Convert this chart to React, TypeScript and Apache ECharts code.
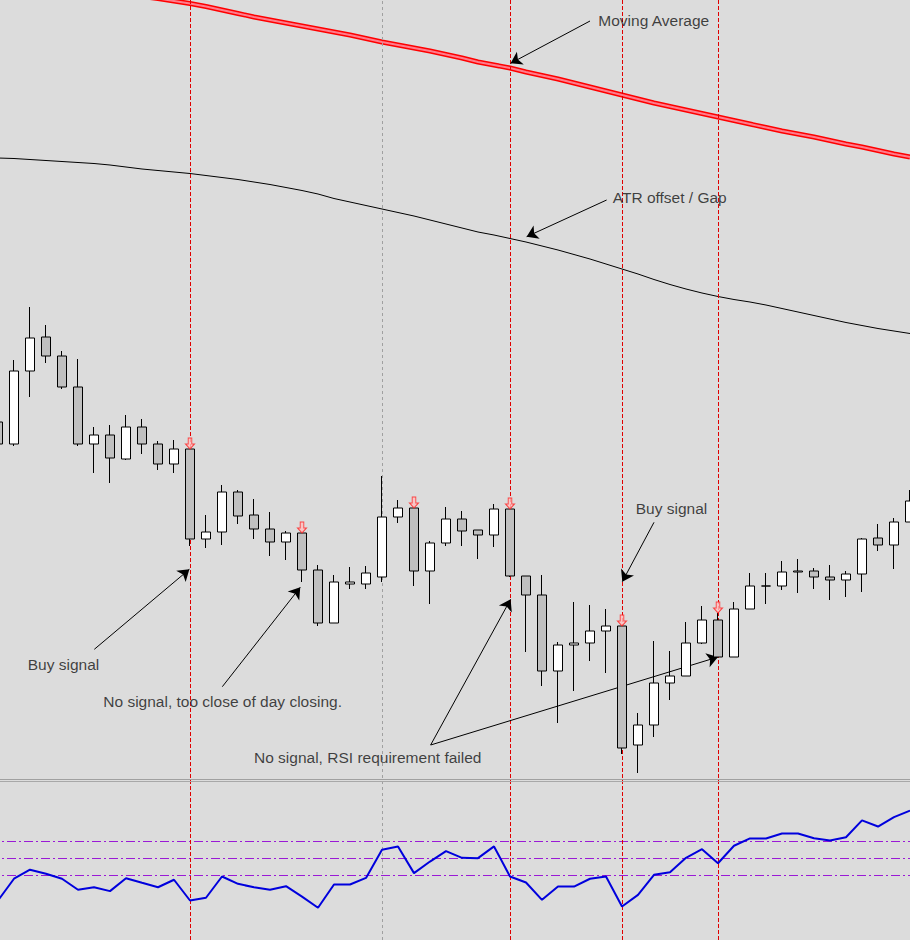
import React, { useEffect, useRef } from "react";
import * as echarts from "echarts";

// ---------- data ----------
const categories: string[] = Array.from({ length: 58 }, (_, i) => `Bar ${i + 1}`);

// [open, close, low, high]
const ohlc: number[][] = [
  [35.6, 33.4, 33.0, 36.0],
  [33.4, 40.7, 33.2, 41.8],
  [40.7, 44.0, 38.1, 47.1],
  [44.1, 42.2, 41.5, 45.3],
  [42.2, 39.1, 38.9, 42.7],
  [39.1, 33.4, 33.2, 41.9],
  [33.4, 34.3, 30.5, 35.1],
  [34.3, 32.0, 29.5, 35.3],
  [31.9, 35.1, 31.8, 36.3],
  [35.1, 33.4, 32.4, 35.9],
  [33.4, 31.4, 30.8, 33.7],
  [31.4, 32.9, 30.5, 33.8],
  [32.9, 23.9, 23.2, 32.9],
  [23.9, 24.6, 23.0, 26.3],
  [24.6, 28.6, 23.3, 29.3],
  [28.6, 26.2, 25.4, 28.8],
  [26.3, 24.9, 23.9, 27.9],
  [24.9, 23.6, 22.2, 26.6],
  [23.6, 24.5, 21.8, 24.7],
  [24.5, 20.8, 19.6, 24.5],
  [20.8, 15.5, 15.2, 21.3],
  [15.5, 19.6, 15.5, 20.3],
  [19.4, 19.6, 18.9, 21.1],
  [19.4, 20.5, 18.9, 21.2],
  [20.1, 26.1, 19.6, 30.2],
  [26.1, 27.0, 25.5, 27.8],
  [27.0, 20.7, 19.2, 27.0],
  [20.7, 23.5, 17.4, 23.7],
  [23.5, 25.9, 23.2, 27.1],
  [25.9, 24.7, 23.2, 26.7],
  [24.8, 24.3, 21.9, 24.8],
  [24.3, 26.9, 23.1, 27.4],
  [26.9, 20.2, 20.1, 26.9],
  [20.2, 18.3, 12.6, 20.2],
  [18.3, 10.7, 9.2, 20.3],
  [10.7, 13.3, 5.5, 13.6],
  [13.3, 13.5, 8.7, 17.6],
  [13.5, 14.7, 11.7, 17.3],
  [14.7, 15.2, 10.5, 16.9],
  [15.2, 3.0, 2.4, 15.2],
  [3.3, 5.3, 0.5, 6.5],
  [5.3, 9.5, 4.1, 13.7],
  [9.5, 10.2, 7.8, 12.7],
  [10.2, 13.5, 10.2, 15.6],
  [13.5, 15.8, 13.4, 17.2],
  [15.8, 12.1, 12.1, 16.5],
  [12.1, 16.9, 12.1, 17.6],
  [16.9, 19.2, 16.9, 20.5],
  [19.2, 19.2, 17.4, 20.5],
  [19.2, 20.6, 18.8, 21.7],
  [20.6, 20.7, 18.5, 21.9],
  [20.7, 20.1, 18.9, 21.0],
  [20.1, 19.8, 17.8, 21.3],
  [19.8, 20.4, 18.1, 20.7],
  [20.4, 23.9, 18.6, 24.0],
  [24.0, 23.3, 22.7, 25.4],
  [23.3, 25.6, 20.9, 26.0],
  [25.6, 27.7, 25.6, 28.8],
];

const movingAverage: number[] = [
  79.6, 79.45, 79.3, 79.15, 79.0, 78.85, 78.7, 78.55, 78.35, 78.15,
  77.95, 77.7, 77.45, 77.15, 76.8, 76.45, 76.1, 75.8, 75.5, 75.2,
  74.9, 74.6, 74.3, 73.95, 73.6, 73.3, 73.0, 72.7, 72.35, 72.0,
  71.6, 71.3, 71.0, 70.6, 70.25, 69.9, 69.5, 69.1, 68.7, 68.3,
  67.9, 67.5, 67.15, 66.8, 66.45, 66.1, 65.75, 65.4, 65.05, 64.7,
  64.4, 64.1, 63.75, 63.4, 63.1, 62.75, 62.4, 62.1,
];

const atrOffset: number[] = [
  62.0, 61.95, 61.85, 61.75, 61.65, 61.55, 61.45, 61.3, 61.1, 60.9,
  60.75, 60.6, 60.45, 60.25, 60.05, 59.85, 59.6, 59.35, 59.05, 58.75,
  58.4, 57.95, 57.6, 57.25, 56.9, 56.55, 56.2, 55.8, 55.4, 55.0,
  54.6, 54.3, 53.95, 53.6, 53.2, 52.8, 52.35, 51.9, 51.4, 50.9,
  50.4, 49.85, 49.35, 48.9, 48.5, 48.15, 47.85, 47.6, 47.3, 46.95,
  46.6, 46.25, 45.9, 45.55, 45.25, 44.95, 44.7, 44.45,
];

const rsi: number[] = [
  35.3, 48.1, 53.4, 51.0, 48.1, 41.6, 43.1, 40.8, 48.4, 45.7,
  43.1, 47.5, 35.3, 36.9, 49.4, 45.1, 43.1, 41.6, 43.7, 37.6,
  31.0, 44.7, 44.7, 48.6, 65.1, 67.1, 51.4, 58.2, 64.3, 60.4,
  60.2, 67.1, 49.4, 45.9, 35.7, 43.5, 43.5, 48.1, 49.4, 31.8,
  38.6, 50.4, 51.9, 60.4, 65.5, 57.2, 67.5, 71.8, 71.8, 74.7,
  74.7, 71.9, 70.6, 72.5, 82.4, 78.8, 84.3, 88.2,
];

const rsiLevels: number[] = [50, 60, 70];
const signalBars: number[] = [12, 19, 26, 32, 39, 45];
const redMarkerBars: number[] = [12, 32, 39, 45];
const grayMarkerBars: number[] = [24];

// annotation texts: [barIndex, price] of left-middle anchor
const annotationTexts = [
  { name: "Moving Average", value: [37.52, 75.75] },
  { name: "ATR offset / Gap", value: [38.42, 58.07] },
  { name: "Buy signal", value: [1.86, 11.37] },
  { name: "No signal, too close of day closing.", value: [6.58, 7.63] },
  { name: "No signal, RSI requirement failed", value: [16.0, 2.07] },
  { name: "Buy signal", value: [39.86, 26.97] },
];

// arrows: [fromBar, fromPrice, toBar, toPrice]
const annotationArrows: number[][] = [
  [37.0, 75.7, 32.04, 71.47],
  [38.04, 57.8, 33.04, 54.13],
  [6.02, 12.87, 11.96, 20.87],
  [14.02, 9.13, 18.89, 19.07],
  [27.04, 3.3, 32.04, 17.87],
  [27.04, 3.3, 45.0, 12.1],
  [41.0, 25.57, 39.02, 19.63],
];

// ---------- chart ----------
const FONT = "'Liberation Sans', Arial, sans-serif";
const OFFSET = 10; // chart starts 10px left of the page so bar 0 is half cut
const CW = 928;
const H = 940;

export default function App() {
  const ref = useRef<HTMLDivElement>(null);

  useEffect(() => {
    if (!ref.current) return;
    const chart = echarts.init(ref.current, undefined, { renderer: "svg" });

    const hiddenCat = (gridIndex: number) => ({
      type: "category" as const,
      gridIndex,
      data: categories,
      boundaryGap: true,
      show: false,
    });

    const option: any = {
      animation: false,
      backgroundColor: "#dcdcdc",
      grid: [
        { left: 0, right: 0, top: 0, height: 778 },
        { left: 0, right: 0, top: 790, height: 150 },
        { left: 0, right: 0, top: 0, height: H },
        { left: 0, right: 0, top: 0, height: 778 },
      ],
      xAxis: [
        hiddenCat(0),
        hiddenCat(1),
        hiddenCat(2),
        { type: "value", gridIndex: 3, min: -0.5, max: 57.5, show: false },
      ],
      yAxis: [
        { type: "value", gridIndex: 0, min: 0, max: 77.8, show: false },
        {
          type: "value",
          gridIndex: 1,
          min: (960.5 - 940) / 1.7,
          max: (960.5 - 790) / 1.7,
          show: false,
        },
        { type: "value", gridIndex: 2, min: 0, max: 1, show: false },
        { type: "value", gridIndex: 3, min: 0, max: 77.8, show: false },
      ],
      graphic: [
        {
          type: "line",
          z: 100,
          shape: { x1: 0, y1: 779.5, x2: CW, y2: 779.5 },
          style: { stroke: "#a0a0a0", lineWidth: 1 },
          silent: true,
        },
        {
          type: "line",
          z: 100,
          shape: { x1: 0, y1: 781.5, x2: CW, y2: 781.5 },
          style: { stroke: "#a8a8a8", lineWidth: 1 },
          silent: true,
        },
      ],
      series: [
        {
          name: "MA outer",
          type: "line",
          xAxisIndex: 0,
          yAxisIndex: 0,
          data: movingAverage,
          symbol: "none",
          lineStyle: { color: "#ff0000", width: 5 },
          z: 3,
          silent: true,
        },
        {
          name: "MA inner",
          type: "line",
          xAxisIndex: 0,
          yAxisIndex: 0,
          data: movingAverage,
          symbol: "none",
          lineStyle: { color: "#ff7c8c", width: 2 },
          z: 4,
          silent: true,
        },
        {
          name: "ATR offset",
          type: "line",
          xAxisIndex: 0,
          yAxisIndex: 0,
          data: atrOffset,
          symbol: "none",
          lineStyle: { color: "#000000", width: 1 },
          z: 3,
          silent: true,
        },
        {
          name: "Price",
          type: "candlestick",
          xAxisIndex: 0,
          yAxisIndex: 0,
          data: ohlc,
          barWidth: 10,
          itemStyle: {
            color: "#ffffff",
            color0: "#c0c0c0",
            borderColor: "#000000",
            borderColor0: "#000000",
            borderColorDoji: "#000000",
            borderWidth: 1,
          },
          z: 5,
          silent: true,
        },
        {
          name: "Signals",
          type: "scatter",
          xAxisIndex: 0,
          yAxisIndex: 0,
          data: signalBars.map((i) => [i, ohlc[i][3]]),
          symbol: "path://M3,0L7,0L7,6L10,6L5,11L0,6L3,6Z",
          symbolSize: [9, 11],
          symbolOffset: [0, "-50%"],
          itemStyle: { color: "#ffc0c0", borderColor: "#ff2020", borderWidth: 1 },
          z: 12,
          silent: true,
        },
        {
          name: "RSI",
          type: "line",
          xAxisIndex: 1,
          yAxisIndex: 1,
          data: rsi,
          symbol: "none",
          lineStyle: { color: "#0000dd", width: 2 },
          z: 6,
          silent: true,
        },
        {
          name: "RSI levels",
          type: "line",
          xAxisIndex: 1,
          yAxisIndex: 1,
          data: [],
          z: 4,
          silent: true,
          markLine: {
            silent: true,
            symbol: ["none", "none"],
            label: { show: false },
            data: rsiLevels.map((v) => ({
              yAxis: v,
              lineStyle: { color: "#9a1ad6", width: 1, type: [9, 3, 2, 3] },
            })),
          },
        },
        {
          name: "Vertical markers",
          type: "line",
          xAxisIndex: 2,
          yAxisIndex: 2,
          data: [],
          z: 10,
          silent: true,
          markLine: {
            silent: true,
            symbol: ["none", "none"],
            label: { show: false },
            data: [
              ...redMarkerBars.map((i) => ({
                xAxis: categories[i],
                lineStyle: { color: "#e00000", width: 1, type: [4, 2] },
              })),
              ...grayMarkerBars.map((i) => ({
                xAxis: categories[i],
                lineStyle: { color: "#a0a0a0", width: 1, type: [3, 3] },
              })),
            ],
          },
        },
        {
          name: "Annotations",
          type: "scatter",
          xAxisIndex: 3,
          yAxisIndex: 3,
          data: annotationTexts,
          symbolSize: 0,
          z: 20,
          silent: true,
          label: {
            show: true,
            position: "right",
            distance: 0,
            formatter: "{b}",
            color: "#141414",
            fontSize: 15.5,
            fontFamily: FONT,
          },
          markLine: {
            silent: true,
            symbol: ["none", "arrow"],
            symbolSize: 11,
            label: { show: false },
            lineStyle: { color: "#000000", width: 1, type: "solid" },
            data: annotationArrows.map((a) => [
              { coord: [a[0], a[1]] },
              { coord: [a[2], a[3]] },
            ]),
          },
        },
      ],
    };

    chart.setOption(option);
    return () => chart.dispose();
  }, []);

  return (
    <div
      ref={ref}
      style={{ position: "fixed", left: -OFFSET, top: 0, width: CW, height: H }}
    />
  );
}
